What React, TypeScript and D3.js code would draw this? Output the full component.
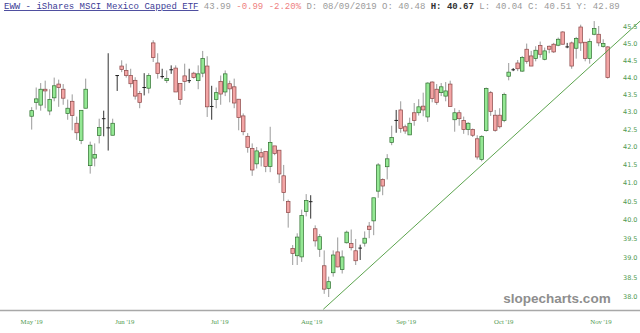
import React from 'react';
import * as d3 from 'd3';

const opens = [42.87,43.27,43.19,43.65,43.02,43.4,43.8,43.65,42.95,43.3,42.67,42.18,43.1,41.48,41.69,42.32,42.81,42.55,42.33,44.06,44.33,44.2,44.05,43.91,43.53,43.71,43.68,45.02,44.42,44.03,43.9,44.23,44.27,43.82,44.04,43.91,44.12,43.9,44.12,44.33,43.16,43.35,43.88,43.57,43.81,43.72,43.36,42.88,42.3,41.96,41.53,41.84,41.87,41.46,42.03,41.91,41.2,40.5,39.25,39.06,39.03,40.23,40.48,39.77,39.23,38.8,38.22,38.62,39.16,38.7,39.4,39.38,39.19,39.27,39.39,39.84,39.98,40.78,41.1,41.45,42.13,42.76,43.05,42.57,42.34,42.97,42.97,43.16,42.85,43.86,43.65,43.55,43.45,43.8,42.77,42.97,42.75,42.49,42.49,42.23,41.65,42.46,43.55,42.9,42.9,42.75,44.03,44.23,44.42,44.18,44.83,44.63,44.55,44.94,44.53,44.92,44.98,44.95,45.35,44.91,45.02,44.86,45.5,45.04,44.55,45.28,45.28,44.91,44.9];
const highs = [43.13,43.7,43.83,43.9,43.65,43.99,43.93,43.8,43.35,43.5,42.86,43.04,43.96,42.15,42.1,42.8,43.03,44.71,42.8,44.06,44.5,44.4,44.25,44.0,43.6,44.12,44.12,45.1,44.71,44.25,44.2,44.35,44.35,43.82,44.4,44.25,44.16,44.35,44.78,44.62,43.75,43.7,44.05,44.2,43.9,43.96,43.36,42.95,42.39,42.1,42.0,41.96,41.87,42.57,42.03,41.91,41.5,40.55,39.34,39.65,40.28,40.7,40.67,39.86,39.63,39.2,38.52,39.2,39.54,39.2,39.72,39.75,39.5,39.35,39.7,39.95,40.6,41.55,41.13,41.8,42.6,43.05,43.3,42.63,42.83,43.25,43.36,43.55,43.85,43.88,43.8,43.83,43.86,43.9,43.1,43.05,42.86,42.7,42.52,42.33,42.33,43.7,43.6,43.05,43.1,43.55,44.42,44.27,44.51,44.63,45.0,44.78,44.92,45.06,44.88,44.94,45.02,45.18,45.37,45.02,45.06,45.2,45.57,45.04,45.15,45.68,45.53,45.13,44.92];
const lows = [42.49,43.06,43.03,43.1,42.9,43.3,43.14,43.2,42.77,42.47,42.2,42.08,43.1,41.26,41.46,42.1,42.3,41.9,42.33,43.6,44.15,43.99,43.7,43.35,43.1,43.47,43.53,44.45,43.96,43.96,43.83,44.1,43.57,43.2,43.6,43.83,43.96,43.65,44.0,42.85,42.77,43.1,43.2,43.45,43.27,43.1,42.47,42.33,41.84,41.2,41.4,41.46,41.3,41.3,41.77,41.0,40.51,39.8,38.82,38.82,38.9,40.1,40.04,39.3,39.03,38.08,38.0,38.52,38.76,38.6,39.38,39.2,38.82,38.95,39.3,39.52,39.6,40.6,40.67,41.1,42.05,42.4,42.4,42.37,42.34,42.6,42.89,42.87,42.71,43.27,43.2,43.45,43.3,43.15,42.43,42.6,42.37,42.33,42.28,41.65,41.6,42.43,42.88,42.43,42.52,42.7,43.91,44.18,44.18,44.16,44.4,44.33,44.47,44.58,44.5,44.71,44.72,44.92,44.98,44.86,44.25,44.55,44.78,44.47,44.4,45.25,44.92,44.88,43.96];
const closes = [43.03,43.37,43.65,43.6,43.35,43.75,43.7,43.39,43.1,42.89,42.4,43.04,43.65,42.05,41.79,42.55,42.79,42.53,42.67,44.04,44.23,44.05,43.81,43.45,43.27,43.69,44.05,44.58,44.11,44.01,43.96,44.21,43.57,43.35,43.88,43.89,43.99,44.1,44.55,43.14,43.14,43.55,43.51,44.1,43.66,43.25,42.83,42.43,41.99,41.36,41.89,41.72,41.46,42.13,41.82,41.25,40.74,40.2,39.12,39.55,40.12,40.53,40.51,39.45,39.56,38.2,38.39,39.08,38.77,39.03,39.68,39.27,38.93,39.25,39.52,39.75,40.6,41.5,40.92,41.67,42.27,42.74,42.52,42.45,42.67,42.75,43.14,43.05,43.83,43.38,43.27,43.72,43.6,43.15,42.97,42.8,42.49,42.67,42.33,41.72,42.3,43.67,43.01,42.47,42.57,43.5,44.15,44.21,44.25,44.58,44.47,44.33,44.8,44.68,44.78,44.83,44.75,45.13,44.98,44.89,44.33,45.15,45.02,44.55,45.06,45.45,45.02,45.0,43.99];

const monthLabels = ["May '19", "Jun '19", "Jul '19", "Aug '19", "Sep '19", "Oct '19", "Nov '19"];
const monthIdx = [0, 20.7, 41.8, 62.2, 83.2, 104.9, 126.5];
const yTicks = [38, 38.5, 39, 39.5, 40, 40.5, 41, 41.5, 42, 42.5, 43, 43.5, 44, 44.5, 45, 45.5];
const trendIdx = [64.8, 128];
const trendVal = [37.69, 44.79];

export default function App() {
  const W = 640, H = 333;
  const n = opens.length;
  const x = d3.scaleLinear().domain([0, n - 1]).range([31.7, 607.7]);
  const y = d3.scaleLog().domain([38, 45.5]).range([297, 27]);
  const bw = 3.6;

  const tx0 = x(trendIdx[0]), ty0 = y(trendVal[0]);
  const tx1 = x(trendIdx[1]), ty1 = y(trendVal[1]);
  const slope = (ty1 - ty0) / (tx1 - tx0);
  const txEnd = 645;
  const tyEnd = ty0 + slope * (txEnd - tx0);

  const fmt = d3.format('.1f');

  return (
    <svg width={W} height={H} style={{ position: 'absolute', left: 0, top: 0, background: '#fff' }}
      fontFamily="Liberation Sans, Arial, sans-serif">
      <rect x={0} y={0} width={W} height={H} fill="#fff" />
      {/* header */}
      <text x={4} y={9} fontFamily="Liberation Mono, Courier New, monospace" fontSize={9} xmlSpace="preserve">
        <tspan fill="#3c3c96" textDecoration="underline">EWW - iShares MSCI Mexico Capped ETF</tspan>
        <tspan fill="#9a9a9a"> 43.99</tspan>
        <tspan fill="#ee7f7f"> -0.99 -2.20%</tspan>
        <tspan fill="#9a9a9a"> D: 08/09/2019 O: 40.48 </tspan>
        <tspan fill="#333" fontWeight="bold">H: 40.67</tspan>
        <tspan fill="#9a9a9a"> L: 40.04 C: 40.51 Y: 42.89</tspan>
      </text>

      {/* watermark */}
      <text x={557} y={303} textAnchor="middle" fontSize={13.5} fontWeight="bold" fill="#8e8e8e"
        fontFamily="Liberation Sans, Arial, sans-serif">slopecharts.com</text>

      {/* bottom axis line */}
      <line x1={0} x2={W} y1={310.5} y2={310.5} stroke="#a8a8a8" strokeWidth={1.5} />

      {/* x labels */}
      {monthLabels.map((m, k) => (
        <text key={m} x={x(monthIdx[k])} y={324} textAnchor="middle" fontSize={6.8}
          fontFamily="Liberation Serif, Times New Roman, serif" fill="#4f9a4f">{m}</text>
      ))}

      {/* y labels */}
      {yTicks.map(t => (
        <text key={t} x={623} y={y(t) + 2.3} fontSize={6.5} fill="#4f9a4f"
          fontFamily="DejaVu Sans, sans-serif">{fmt(t)}</text>
      ))}

      {/* candles */}
      {opens.map((o, i) => {
        const c = closes[i];
        const up = c >= o;
        const cx = x(i);
        const top = y(Math.max(o, c));
        const bot = y(Math.min(o, c));
        const h = Math.max(bot - top, 0.8);
        const isDoji = Math.abs(c - o) < 0.04;
        return (
          <g key={i}>
            <line x1={cx} x2={cx} y1={y(highs[i])} y2={y(lows[i])} stroke={isDoji ? '#333' : '#9a9a9a'} strokeWidth={1} />
            {isDoji ? (
              <line x1={cx - bw / 2} x2={cx + bw / 2} y1={(top + bot) / 2} y2={(top + bot) / 2} stroke="#222" strokeWidth={1} />
            ) : (
              <rect x={cx - bw / 2} y={top} width={bw} height={h}
                fill={up ? '#94e894' : '#f3a5a5'} stroke={up ? '#2f6f2f' : '#8a4646'} strokeWidth={0.7} />
            )}
          </g>
        );
      })}

      {/* trend line */}
      <line x1={tx0} y1={ty0} x2={txEnd} y2={tyEnd} stroke="#4a9a3a" strokeWidth={0.9} />
    </svg>
  );
}
